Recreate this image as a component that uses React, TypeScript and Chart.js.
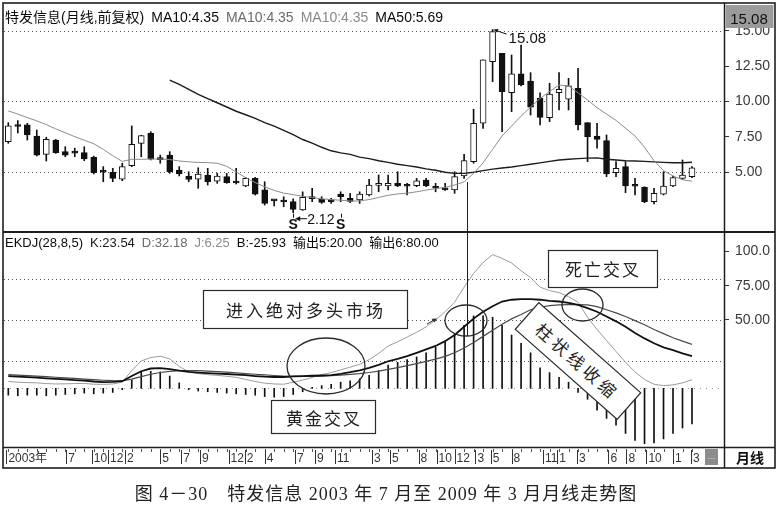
import React, { useEffect, useRef } from 'react';
import { Chart, registerables } from 'chart.js';

Chart.register(...registerables);

const FONT = 'Arial, "Liberation Sans", "Noto Sans CJK SC", sans-serif';
const CJK = '"Noto Sans CJK SC", "Noto Sans CJK TC", sans-serif';

// Monthly bars, 2003-03 .. 2009-03
const months = [
  '2003-03', '2003-04', '2003-05', '2003-06', '2003-07', '2003-08', '2003-09', '2003-10', '2003-11', '2003-12',
  '2004-01', '2004-02', '2004-03', '2004-04', '2004-05', '2004-06', '2004-07', '2004-08', '2004-09', '2004-10', '2004-11', '2004-12',
  '2005-01', '2005-02', '2005-03', '2005-04', '2005-05', '2005-06', '2005-07', '2005-08', '2005-09', '2005-10', '2005-11', '2005-12',
  '2006-01', '2006-02', '2006-03', '2006-04', '2006-05', '2006-06', '2006-07', '2006-08', '2006-09', '2006-10', '2006-11', '2006-12',
  '2007-01', '2007-02', '2007-03', '2007-04', '2007-05', '2007-06', '2007-07', '2007-08', '2007-09', '2007-10', '2007-11', '2007-12',
  '2008-01', '2008-02', '2008-03', '2008-04', '2008-05', '2008-06', '2008-07', '2008-08', '2008-09', '2008-10', '2008-11', '2008-12',
  '2009-01', '2009-02', '2009-03',
];

const openP = [
  7.14, 8.30, 8.33, 7.55, 6.25, 7.26, 6.44, 6.38, 6.37, 6.04,
  5.05, 4.98, 4.50, 5.45, 7.03, 7.74, 5.92, 6.20, 5.14, 4.72,
  4.50, 4.79, 4.36, 4.67, 4.30, 4.01, 4.55, 3.73, 3.00, 2.93,
  2.90, 2.31, 3.17, 3.07, 3.02, 3.44, 3.14, 3.02, 3.37, 4.05,
  4.01, 4.20, 4.03, 4.03, 4.43, 3.96, 3.85, 3.73, 4.72, 5.73,
  8.45, 12.81, 13.40, 10.61, 11.94, 11.44, 10.22, 8.84, 10.61, 10.15,
  10.92, 8.49, 7.55, 7.22, 4.95, 5.38, 4.03, 3.92, 2.90, 3.44,
  4.01, 4.55, 4.67,
];
const closeP = [
  8.26, 8.22, 7.62, 6.20, 7.31, 6.37, 6.20, 6.34, 5.92, 4.95,
  4.99, 4.55, 5.38, 6.96, 7.57, 5.90, 5.88, 5.02, 4.86, 4.48,
  4.86, 4.31, 4.72, 4.24, 4.22, 4.55, 3.44, 2.78, 2.96, 2.88,
  2.36, 3.20, 3.12, 2.85, 2.90, 3.25, 2.92, 3.44, 4.08, 4.12,
  4.20, 4.01, 3.99, 4.38, 4.03, 3.85, 3.73, 4.67, 5.80, 8.45,
  12.93, 14.93, 10.68, 11.94, 11.16, 9.58, 8.87, 10.52, 10.85, 11.09,
  8.33, 7.50, 7.31, 4.86, 5.26, 4.01, 3.99, 2.90, 3.49, 4.01,
  4.60, 4.79, 5.30,
];
const highP = [
  8.49, 8.64, 8.45, 7.97, 7.46, 7.31, 6.79, 6.68, 6.79, 6.13,
  5.38, 5.26, 5.62, 8.26, 7.60, 7.85, 6.20, 6.44, 5.38, 5.02,
  5.30, 5.26, 4.91, 4.91, 5.26, 4.62, 4.62, 4.31, 3.02, 3.25,
  3.10, 3.60, 3.85, 3.25, 3.14, 3.60, 3.49, 3.60, 4.48, 4.79,
  4.79, 5.02, 4.20, 4.55, 4.55, 4.20, 4.20, 5.02, 6.25, 9.44,
  12.93, 15.08, 13.40, 13.28, 13.99, 12.03, 10.61, 11.28, 12.03, 11.63,
  12.34, 8.49, 8.45, 7.62, 5.73, 5.73, 4.55, 3.96, 3.85, 5.02,
  4.72, 5.85, 5.38,
];
const lowP = [
  7.03, 7.76, 7.26, 6.13, 5.78, 6.32, 6.08, 6.08, 5.80, 4.86,
  4.31, 4.31, 4.38, 5.38, 6.08, 5.85, 5.62, 4.91, 4.72, 4.31,
  3.85, 4.08, 4.20, 4.20, 4.15, 3.96, 3.37, 2.66, 2.60, 2.54,
  2.12, 2.28, 2.90, 2.78, 2.78, 2.90, 2.83, 2.78, 3.30, 3.60,
  3.73, 3.96, 3.37, 3.96, 3.96, 3.60, 3.70, 3.49, 4.55, 5.62,
  8.09, 11.39, 7.85, 9.27, 11.09, 9.03, 8.33, 8.56, 9.39, 9.39,
  7.97, 5.73, 6.68, 4.67, 4.67, 3.54, 3.37, 2.83, 2.74, 3.37,
  3.96, 4.48, 4.60,
];

const ma10 = [
  9.32, 9.10, 8.85, 8.62, 8.35, 8.05, 7.78, 7.50, 7.25, 7.00,
  6.60, 6.15, 5.75, 5.90, 5.90, 5.92, 5.92, 5.88, 5.78, 5.72,
  5.68, 5.66, 5.62, 5.40, 5.00, 4.60, 4.25, 3.95, 3.70, 3.50,
  3.40, 3.28, 3.20, 3.10, 3.05, 3.00, 2.95, 2.95, 3.05, 3.20,
  3.35, 3.45, 3.50, 3.60, 3.72, 3.82, 3.92, 4.08, 4.30, 4.90,
  5.65, 6.60, 7.55, 8.25, 8.95, 9.60, 10.20, 10.70, 11.15, 11.10,
  10.60, 10.10, 9.55, 9.10, 8.65, 8.10, 7.55, 6.75, 5.80, 5.10,
  4.72, 4.45, 4.35,
];
const ma50 = [
  null, null, null, null, null, null, null, null, null, null,
  null, null, null, null, null, null, null, 11.50, 11.20, 10.85,
  10.50, 10.20, 9.90, 9.60, 9.30, 9.05, 8.80, 8.50, 8.25, 7.95,
  7.65, 7.30, 7.05, 6.75, 6.50, 6.35, 6.25, 6.05, 5.95, 5.80,
  5.68, 5.55, 5.45, 5.35, 5.22, 5.12, 4.98, 4.90, 4.90, 4.98,
  5.10, 5.20, 5.28, 5.35, 5.45, 5.55, 5.65, 5.75, 5.85, 5.90,
  5.95, 5.98, 6.00, 5.90, 5.85, 5.80, 5.78, 5.75, 5.72, 5.68,
  5.65, 5.65, 5.69,
];

const kLine = [
  9.0, 8.6, 8.2, 7.8, 7.3, 6.9, 6.5, 6.0, 5.6, 5.0,
  4.6, 4.7, 5.2, 9.0, 12.5, 14.5, 14.8, 14.0, 13.0, 12.0,
  11.5, 11.1, 10.8, 10.5, 10.1, 9.6, 9.0, 8.5, 8.3, 8.3,
  8.7, 9.0, 9.2, 9.4, 9.7, 10.6, 11.8, 13.2, 15.0, 17.2,
  19.8, 21.5, 23.5, 26.0, 28.5, 31.0, 34.5, 39.0, 45.0, 51.0,
  56.0, 60.0, 63.5, 64.8, 65.3, 65.2, 64.8, 64.0, 63.5, 62.5,
  61.0, 58.6, 56.0, 52.5, 49.0, 45.0, 40.5, 36.5, 33.0, 30.0,
  27.9, 25.5, 23.54,
];
const dLine = [
  10.0, 9.7, 9.3, 8.9, 8.5, 8.1, 7.7, 7.3, 6.8, 6.3,
  5.9, 5.6, 5.5, 6.8, 8.6, 10.3, 11.6, 12.4, 12.9, 13.0,
  12.9, 12.6, 12.2, 11.8, 11.3, 10.8, 10.3, 9.8, 9.4, 9.0,
  8.8, 8.7, 8.8, 9.0, 9.3, 9.7, 10.2, 10.8, 11.6, 12.6,
  13.9, 15.2, 16.6, 18.1, 19.7, 21.4, 23.4, 26.0, 29.5, 33.5,
  38.0, 42.5, 46.8, 50.8, 54.0, 57.5, 59.3, 60.5, 61.0, 61.2,
  61.2, 61.0, 59.8, 57.5, 55.2, 52.5, 49.5, 46.5, 43.0, 40.0,
  37.0, 34.5, 32.18,
];
const jLine = [
  5.0, 4.5, 4.2, 4.0, 3.5, 3.2, 3.3, 3.5, 3.6, 3.0,
  2.9, 3.2, 4.5, 13.0, 20.0, 22.5, 23.5, 21.5, 16.0, 12.0,
  10.8, 10.0, 9.5, 8.8, 8.0, 6.5, 5.0, 3.8, 3.2, 3.0,
  4.5, 6.0, 8.0, 10.0, 11.5, 13.5, 15.5, 17.5, 21.0, 25.5,
  31.0, 34.0, 37.5, 41.0, 45.0, 50.0, 56.0, 63.0, 74.0, 84.0,
  92.0, 97.8, 95.0, 91.7, 86.0, 81.0, 74.0, 71.5, 70.0, 67.0,
  63.0, 52.0, 43.0, 35.0, 27.0, 19.0, 12.0, 6.5, 3.0, 2.0,
  2.5, 4.0, 6.25,
];
const bBar = [
  -5, -5.5, -5, -5, -5.5, -5, -4.5, -4, -3.5, -4,
  -3.5, -3, -1, 6, 12, 12.5, 12, 9, 4, -1,
  -2, -2.5, -3, -3.5, -4, -4.5, -5, -6, -6.5, -6,
  -4.5, -2.5, 0.8, 2, 3, 4.5, 5.5, 7, 9.5, 13,
  17, 19, 21, 23, 26, 30, 34, 40, 46, 53,
  53, 52, 46, 39, 33, 26, 15, 11.5, 8, 4.5,
  -3, -8, -16, -22, -27, -33, -38, -40.5, -40, -37,
  -33, -29, -25.93,
];

// axis values
const X_MIN = -0.453;
const X_MAX = 75.37;
const priceTicks = [5, 7.5, 10, 12.5, 15];
const priceGuides = [5, 10, 15];
const ekdjTicks = [50, 75, 100];
const ekdjTickText = ['50.00', '75.00', '100.0'];
const ekdjGuides = [80, 50, 20];
const signalBars = [30, 35];
const dateTickPos = [
  -0.2, 6.1, 8.8, 10.5, 12.3, 16.0, 18.2, 20.2, 23.2, 24.9,
  27.0, 30.2, 32.3, 34.4, 38.3, 40.2, 43.2, 45.1, 47.0, 49.2,
  50.8, 53.0, 56.3, 57.8, 59.9, 63.2, 65.1, 67.2, 70.0, 71.9,
];
const dateTickText = [
  '2003年', '7', '10', '12', '2', '5', '7', '9', '12', '2',
  '4', '7', '9', '11', '3', '5', '8', '10', '12', '3',
  '5', '8', '11', '1', '3', '6', '8', '10', '1', '3',
];

const last = months.length - 1;
const fmt = (v: number) => v.toFixed(2);

const priceHeader = [
  { text: '特发信息(月线,前复权)', color: '#0a0a0a' },
  { text: 'MA10:' + fmt(ma10[last]), color: '#0a0a0a' },
  { text: 'MA10:' + fmt(ma10[last]), color: '#6a6a6a' },
  { text: 'MA10:' + fmt(ma10[last]), color: '#8a8a8a' },
  { text: 'MA50:' + fmt(ma50[last] as number), color: '#0a0a0a' },
];
const ekdjHeader = [
  { text: 'EKDJ(28,8,5)', color: '#0a0a0a' },
  { text: 'K:' + fmt(kLine[last]), color: '#1a1a1a' },
  { text: 'D:' + fmt(dLine[last]), color: '#6a6a6a' },
  { text: 'J:' + fmt(jLine[last]), color: '#8a8a8a' },
  { text: 'B:' + fmt(bBar[last]), color: '#0a0a0a' },
  { text: '输出5:' + fmt(ekdjGuides[2]), color: '#0a0a0a' },
  { text: '输出6:' + fmt(ekdjGuides[0]), color: '#0a0a0a' },
];

function drawRuns(ctx: CanvasRenderingContext2D, x: number, y: number, runs: any[], gap: number) {
  ctx.textAlign = 'left';
  ctx.textBaseline = 'alphabetic';
  for (const r of runs) {
    ctx.fillStyle = r.color;
    ctx.fillText(r.text, x, y);
    x += ctx.measureText(r.text).width + gap;
  }
}

function dotted(ctx: CanvasRenderingContext2D, x1: number, x2: number, y: number, color: string, dash: number[]) {
  ctx.save();
  ctx.strokeStyle = color;
  ctx.lineWidth = 1;
  ctx.setLineDash(dash);
  ctx.beginPath();
  ctx.moveTo(x1, Math.round(y) + 0.5);
  ctx.lineTo(x2, Math.round(y) + 0.5);
  ctx.stroke();
  ctx.restore();
}

const priceDecor = {
  id: 'priceDecor',
  beforeDatasetsDraw(chart: any) {
    const { ctx, chartArea, scales } = chart;
    priceGuides.forEach((v) => dotted(ctx, chartArea.left, chartArea.right, scales.y.getPixelForValue(v), '#555', [1, 3]));
  },
  afterDatasetsDraw(chart: any) {
    const { ctx, chartArea, scales } = chart;
    const xs = scales.x;
    const ys = scales.y;
    ctx.save();
    ctx.font = `14px ${FONT}`;
    drawRuns(ctx, chartArea.left + 1, chartArea.top + 19, priceHeader, 7);

    // highest bar callout
    const hiVal = Math.max(...highP);
    const hi = highP.indexOf(hiVal);
    const hx = xs.getPixelForValue(hi);
    const hy = ys.getPixelForValue(hiVal);
    ctx.strokeStyle = '#111';
    ctx.fillStyle = '#111';
    ctx.lineWidth = 1;
    ctx.beginPath();
    ctx.moveTo(hx + 2, hy + 0.5);
    ctx.lineTo(hx + 14, hy + 4.5);
    ctx.stroke();
    ctx.beginPath();
    ctx.moveTo(hx + 1, hy);
    ctx.lineTo(hx + 6, hy - 0.5);
    ctx.lineTo(hx + 4.5, hy + 3);
    ctx.closePath();
    ctx.fill();
    ctx.font = `15px ${FONT}`;
    ctx.fillText(fmt(hiVal), hx + 16, hy + 13.5);

    // lowest bar callout
    const loVal = Math.min(...lowP);
    const lo = lowP.indexOf(loVal);
    const lx = xs.getPixelForValue(lo);
    const ly = ys.getPixelForValue(loVal);
    ctx.beginPath();
    ctx.moveTo(lx + 3, ly + 6);
    ctx.lineTo(lx + 14, ly + 6);
    ctx.stroke();
    ctx.beginPath();
    ctx.moveTo(lx + 2, ly + 6);
    ctx.lineTo(lx + 7, ly + 3.5);
    ctx.lineTo(lx + 7, ly + 8.5);
    ctx.closePath();
    ctx.fill();
    ctx.font = `14px ${FONT}`;
    ctx.fillText(fmt(loVal), lx + 14, ly + 11);

    // signal letters under the bars
    ctx.font = `bold 14px ${FONT}`;
    ctx.textAlign = 'center';
    for (const i of signalBars) {
      const sx = xs.getPixelForValue(i);
      ctx.fillText('S', sx, ly + 16.5);
      ctx.beginPath();
      ctx.moveTo(Math.round(sx) + 0.5, ly + 1);
      ctx.lineTo(Math.round(sx) + 0.5, ly + 5);
      ctx.stroke();
    }
    ctx.restore();
  },
};

const ekdjDecor = {
  id: 'ekdjDecor',
  beforeDatasetsDraw(chart: any) {
    const { ctx, chartArea, scales } = chart;
    ekdjGuides.forEach((v) => dotted(ctx, chartArea.left, chartArea.right, scales.y.getPixelForValue(v), '#555', [1, 3]));
    dotted(ctx, chartArea.left, chartArea.right, scales.y.getPixelForValue(0), '#999', [1, 5]);
  },
  afterDraw(chart: any) {
    const { ctx, chartArea, scales } = chart;
    const xs = scales.x;
    ctx.save();
    ctx.font = `13px ${FONT}`;
    drawRuns(ctx, chartArea.left + 1, chartArea.top + 14, ekdjHeader, 7);

    // date strip marks
    const top = xs.top;
    ctx.strokeStyle = '#555';
    ctx.lineWidth = 1;
    for (let i = 0; i < months.length; i++) {
      const px = Math.round(xs.getPixelForValue(i)) + 0.5;
      ctx.beginPath();
      ctx.moveTo(px, top + 2);
      ctx.lineTo(px, top + 5);
      ctx.stroke();
    }
    ctx.strokeStyle = '#333';
    for (const v of dateTickPos) {
      const px = Math.round(xs.getPixelForValue(v)) + 0.5;
      if (px < chartArea.left + 2) continue;
      ctx.beginPath();
      ctx.moveTo(px, top + 3);
      ctx.lineTo(px, top + 17);
      ctx.stroke();
    }
    ctx.restore();
  },
};

const xAxisHidden = { type: 'linear', min: X_MIN, max: X_MAX, offset: false, display: false };

function rightAxis(min: number, max: number, ticks: number[], label: (v: number, i: number) => string) {
  return {
    type: 'linear',
    position: 'right',
    min,
    max,
    afterBuildTicks: (s: any) => {
      s.ticks = ticks.map((v) => ({ value: v }));
    },
    afterFit: (s: any) => {
      s.width = 51;
      s.paddingTop = 0;
      s.paddingBottom = 0;
    },
    border: { display: false },
    grid: { drawOnChartArea: false, drawTicks: true, tickLength: 5, tickColor: '#333' },
    ticks: {
      color: '#3a3a3a',
      font: { size: 14, family: FONT },
      padding: 6,
      callback: (v: any, i: number) => label(Number(v), i),
    },
  };
}

const idx = months.map((_, i) => i);

function buildPriceChart(canvas: HTMLCanvasElement) {
  return new Chart(canvas, {
    type: 'bar',
    data: {
      datasets: [
        {
          type: 'line',
          label: 'MA10',
          data: idx.map((i) => ({ x: i, y: ma10[i] })),
          borderColor: '#8c8c8c',
          borderWidth: 1,
          pointRadius: 0,
          tension: 0,
          order: 0,
        },
        {
          type: 'line',
          label: 'MA50',
          data: idx.filter((i) => ma50[i] !== null).map((i) => ({ x: i, y: ma50[i] })),
          borderColor: '#1c1c1c',
          borderWidth: 1.4,
          pointRadius: 0,
          tension: 0,
          order: 1,
        },
        {
          type: 'bar',
          label: 'body',
          data: idx.map((i) => ({ x: i, y: [openP[i], closeP[i]] })),
          backgroundColor: idx.map((i) => (closeP[i] >= openP[i] ? '#ffffff' : '#111111')),
          borderColor: '#111111',
          borderWidth: 1,
          borderSkipped: false,
          barThickness: 6,
          minBarLength: 2,
          grouped: false,
          order: 2,
        },
        {
          type: 'bar',
          label: 'wick',
          data: idx.map((i) => ({ x: i, y: [lowP[i], highP[i]] })),
          backgroundColor: '#111111',
          barThickness: 1,
          grouped: false,
          order: 3,
        },
      ],
    },
    options: {
      responsive: false,
      animation: false,
      devicePixelRatio: 1,
      events: [],
      layout: { padding: { left: 4, right: 5, top: 3, bottom: 1 } },
      plugins: { legend: { display: false }, tooltip: { enabled: false } },
      scales: {
        x: xAxisHidden,
        y: rightAxis(0.825, 16.96, priceTicks, (v) => v.toFixed(2)),
      },
    },
    plugins: [priceDecor],
  } as any);
}

function buildEkdjChart(canvas: HTMLCanvasElement) {
  return new Chart(canvas, {
    type: 'bar',
    data: {
      datasets: [
        {
          type: 'line',
          label: 'K',
          data: idx.map((i) => ({ x: i, y: kLine[i] })),
          borderColor: '#111111',
          borderWidth: 1.8,
          pointRadius: 0,
          tension: 0,
          order: 0,
        },
        {
          type: 'line',
          label: 'D',
          data: idx.map((i) => ({ x: i, y: dLine[i] })),
          borderColor: '#4a4a4a',
          borderWidth: 1.2,
          pointRadius: 0,
          tension: 0,
          order: 1,
        },
        {
          type: 'line',
          label: 'J',
          data: idx.map((i) => ({ x: i, y: jLine[i] })),
          borderColor: '#9a9a9a',
          borderWidth: 1,
          pointRadius: 0,
          tension: 0,
          order: 2,
        },
        {
          type: 'bar',
          label: 'B',
          data: idx.map((i) => ({ x: i, y: bBar[i] })),
          backgroundColor: '#111111',
          barThickness: 1,
          grouped: false,
          order: 3,
        },
      ],
    },
    options: {
      responsive: false,
      animation: false,
      devicePixelRatio: 1,
      events: [],
      layout: { padding: { left: 4, right: 5, top: 1, bottom: 2 } },
      plugins: { legend: { display: false }, tooltip: { enabled: false } },
      scales: {
        x: {
          type: 'linear',
          position: 'bottom',
          min: X_MIN,
          max: X_MAX,
          offset: false,
          afterBuildTicks: (s: any) => {
            s.ticks = dateTickPos.map((v) => ({ value: v }));
          },
          afterFit: (s: any) => {
            s.height = 21;
            s.paddingLeft = 0;
            s.paddingRight = 0;
          },
          border: { display: false },
          grid: { drawOnChartArea: false, drawTicks: false },
          ticks: {
            autoSkip: false,
            maxRotation: 0,
            minRotation: 0,
            align: 'start',
            padding: 4,
            labelOffset: 2,
            color: '#333',
            font: { size: 12, family: FONT },
            callback: (_v: any, i: number) => dateTickText[i],
          },
        },
        y: rightAxis(-42.9, 113.6, ekdjTicks, (_v, i) => ekdjTickText[i]),
      },
    },
    plugins: [ekdjDecor],
  } as any);
}

const boxText = {
  fontFamily: CJK,
  fontSize: 17,
  fill: '#222',
  textAnchor: 'middle' as const,
  dominantBaseline: 'central' as const,
};

export default function App() {
  const priceRef = useRef<HTMLCanvasElement>(null);
  const ekdjRef = useRef<HTMLCanvasElement>(null);

  useEffect(() => {
    const a = buildPriceChart(priceRef.current as HTMLCanvasElement);
    const b = buildEkdjChart(ekdjRef.current as HTMLCanvasElement);
    return () => {
      a.destroy();
      b.destroy();
    };
  }, []);

  const peak = fmt(Math.max(...highP));

  return (
    <div style={{ position: 'absolute', left: 0, top: 0, width: 780, height: 510, background: '#fff', overflow: 'hidden' }}>
      <canvas ref={priceRef} width={780} height={232} style={{ position: 'absolute', left: 0, top: 0 }} />
      <canvas ref={ekdjRef} width={780} height={238} style={{ position: 'absolute', left: 0, top: 232 }} />
      <svg width={780} height={510} style={{ position: 'absolute', left: 0, top: 0, pointerEvents: 'none' }}>
        <g stroke="#1e1e1e" fill="none">
          <rect x={3} y={3} width={772} height={465} strokeWidth={1.6} />
          <line x1={724.5} y1={3} x2={724.5} y2={468} strokeWidth={1.5} />
          <line x1={3} y1={232} x2={775} y2={232} strokeWidth={2} />
          <line x1={3} y1={447.5} x2={775} y2={447.5} strokeWidth={1.3} />
          <line x1={467.5} y1={182} x2={467.5} y2={336} strokeWidth={1} />
        </g>

        <rect x={725.5} y={5} width={48} height={23} fill="#9b9b9b" />
        <text x={749} y={24} textAnchor="middle" fontSize={15} fontFamily={FONT} fill="#111">{peak}</text>

        <rect x={705} y={449} width={13} height={16} fill="#8c8c8c" />
        <text x={711.5} y={460} textAnchor="middle" fontSize={8} fontFamily={FONT} fill="#d8d8d8">---</text>
        <text x={750} y={463} textAnchor="middle" fontSize={14} fontWeight="bold" fontFamily={CJK} fill="#111">月线</text>

        <g fill="#fff" stroke="#2a2a2a" strokeWidth={1.2}>
          <rect x={203.5} y={290.5} width={204} height={38} />
          <rect x={271.5} y={400.5} width={104} height={33} />
          <rect x={548.5} y={250.5} width={109} height={37} />
        </g>
        <text x={306} y={309} letterSpacing={3} {...boxText}>进入绝对多头市场</text>
        <text x={324} y={417} letterSpacing={2} {...boxText}>黄金交叉</text>
        <text x={603} y={268} letterSpacing={2} {...boxText}>死亡交叉</text>

        <g transform="translate(578,361) rotate(41.5)">
          <rect x={-68} y={-17.8} width={136} height={35.6} fill="#fff" stroke="#2a2a2a" strokeWidth={1.2} />
          <text x={0} y={0} letterSpacing={4} {...boxText}>柱状线收缩</text>
        </g>

        <g fill="none" stroke="#2a2a2a" strokeWidth={1.3}>
          <ellipse cx={326} cy={366} rx={39} ry={28} />
          <ellipse cx={466} cy={320.5} rx={21} ry={15.5} />
          <ellipse cx={582.5} cy={305} rx={20.5} ry={16} />
        </g>
        <path d="M427,324 L435,319.5" stroke="#333" strokeWidth={1} />
        <path d="M437,318.5 L431.5,318.8 L434.5,322.5 Z" fill="#333" />
      </svg>
      <div
        style={{
          position: 'absolute',
          left: 0,
          top: 482,
          width: 772,
          textAlign: 'center',
          fontFamily: '"Liberation Serif", "Noto Sans CJK SC", serif',
          fontSize: 18,
          letterSpacing: 1,
          lineHeight: '24px',
          color: '#222',
          whiteSpace: 'pre',
        }}
      >
        {'图 4－30　特发信息 2003 年 7 月至 2009 年 3 月月线走势图'}
      </div>
    </div>
  );
}
